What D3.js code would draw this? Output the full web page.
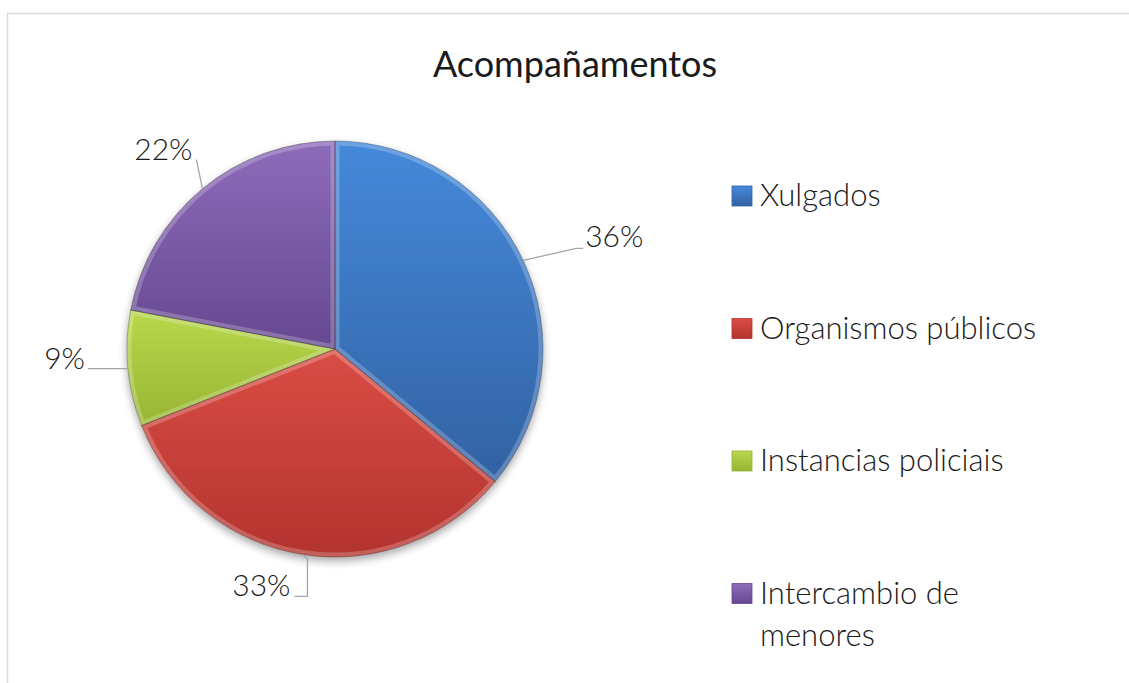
<!DOCTYPE html>
<html>
<head>
<meta charset='utf-8' />
<title>Acompañamentos</title>
<style>
  body { margin: 0; background: #fff; }
  text { font-family: Lato, 'Open Sans', sans-serif; font-weight: 300; fill: #1a1a1a; }
</style>
</head>
<body>
<div id="chart"></div>
<script src='https://d3js.org/d3.v7.min.js' charset='utf-8'></script>
<script>
const width = 1129
const height = 683

// data
const title = "Acompañamentos"
const categories = ["Xulgados", "Organismos públicos", "Instancias policiais", "Intercambio de menores"]
const legendLines = [["Xulgados"], ["Organismos públicos"], ["Instancias policiais"], ["Intercambio de", "menores"]]
const values = [36, 33, 9, 22]

// colours (top, bottom of each slice gradient)
const topColors = ["#4589da", "#da4d46", "#b9d84c", "#8d6cba"]
const bottomColors = ["#3262a3", "#b3332e", "#97b533", "#664890"]

// leader line points and label spot, relative to the slice's edge point
const labelNudge = [
  { path: [[53, -12], [60, -12]], text: [62, -13], anchor: "start" },
  { path: [[5, 4], [5, 42], [-8, 42]], text: [-12, 42], anchor: "end" },
  { path: [[-40, 0]], text: [-43, 0], anchor: "end" },
  { path: [[-6, -29]], text: [-10, -29], anchor: "end" }
]

const cx = 335, cy = 349, R = 208

const svg = d3.select("#chart").append("svg")
  .attr("width", width)
  .attr("height", height)

const defs = svg.append("defs")

values.forEach((v, i) => {
  const g = defs.append("linearGradient")
    .attr("id", "grad" + i)
    .attr("x1", 0).attr("y1", 0).attr("x2", 0).attr("y2", 1)
  g.append("stop").attr("offset", "0%").attr("stop-color", topColors[i])
  g.append("stop").attr("offset", "100%").attr("stop-color", bottomColors[i])
})

const shadow = defs.append("filter").attr("id", "shadow")
  .attr("x", "-20%").attr("y", "-20%").attr("width", "140%").attr("height", "140%")
shadow.append("feGaussianBlur").attr("in", "SourceAlpha").attr("stdDeviation", 4)
shadow.append("feOffset").attr("dx", 0).attr("dy", 4).attr("result", "off")
shadow.append("feComponentTransfer").append("feFuncA").attr("type", "linear").attr("slope", 0.35)
const merge = shadow.append("feMerge")
merge.append("feMergeNode")
merge.append("feMergeNode").attr("in", "SourceGraphic")

// chart frame
svg.append("path")
  .attr("d", `M7.5,${height}V13.5H${width}`)
  .attr("fill", "none")
  .attr("stroke", "#d9d9d9")
  .attr("stroke-width", 1.5)

svg.append("text")
  .attr("x", 575)
  .attr("y", 77)
  .attr("text-anchor", "middle")
  .style("font-size", "36px")
  .style("font-weight", 400)
  .text(title)

const pie = d3.pie().sort(null).value(d => d)
const arcs = pie(values)
const arc = d3.arc().innerRadius(0).outerRadius(R)
const edgeArc = d3.arc().innerRadius(R).outerRadius(R)

const pieG = svg.append("g")
  .attr("transform", `translate(${cx},${cy})`)

const slices = pieG.append("g").attr("filter", "url(#shadow)")

arcs.forEach((a, i) => {
  defs.append("clipPath").attr("id", "clip" + i)
    .append("path").attr("d", arc(a))
})

slices.selectAll("path.slice")
  .data(arcs)
  .join("path")
  .attr("class", "slice")
  .attr("d", arc)
  .attr("fill", (d, i) => `url(#grad${i})`)

// soft bevel: light rim inside each slice, thin dark outline
slices.selectAll("path.rim")
  .data(arcs)
  .join("path")
  .attr("class", "rim")
  .attr("d", arc)
  .attr("clip-path", (d, i) => `url(#clip${i})`)
  .attr("fill", "none")
  .attr("stroke", "#ffffff")
  .attr("stroke-opacity", 0.22)
  .attr("stroke-width", 9)

slices.selectAll("path.edge")
  .data(arcs)
  .join("path")
  .attr("class", "edge")
  .attr("d", arc)
  .attr("fill", "none")
  .attr("stroke", "#000")
  .attr("stroke-opacity", 0.25)
  .attr("stroke-width", 1)

// data labels with leader lines
arcs.forEach((a, i) => {
  const p = edgeArc.centroid(a)
  const nudge = labelNudge[i]
  const pts = [p].concat(nudge.path.map(q => [p[0] + q[0], p[1] + q[1]]))
  pieG.append("path")
    .attr("d", d3.line()(pts))
    .attr("fill", "none")
    .attr("stroke", "#a6a6a6")
    .attr("stroke-width", 1.3)
  pieG.append("text")
    .attr("x", p[0] + nudge.text[0])
    .attr("y", p[1] + nudge.text[1])
    .attr("text-anchor", nudge.anchor)
    .style("font-size", "30px")
    .text(d3.format(".0%")(a.data / d3.sum(values)))
})

// legend
const legendX = 732, legendY0 = 206, legendStep = 132.5
const legend = svg.append("g")
const items = legend.selectAll("g")
  .data(categories)
  .join("g")
  .attr("transform", (d, i) => `translate(${legendX},${legendY0 + i * legendStep})`)

items.append("rect")
  .attr("x", 0).attr("y", -20)
  .attr("width", 20).attr("height", 20)
  .attr("fill", (d, i) => `url(#grad${i})`)
  .attr("stroke", (d, i) => bottomColors[i])
  .attr("stroke-width", 0.8)

items.append("text")
  .attr("x", 28)
  .attr("y", 0)
  .style("font-size", "31px")
  .selectAll("tspan")
  .data((d, i) => legendLines[i])
  .join("tspan")
  .attr("x", 28)
  .attr("dy", (d, j) => j === 0 ? 0 : 42)
  .text(d => d)
</script>
</body>
</html>
